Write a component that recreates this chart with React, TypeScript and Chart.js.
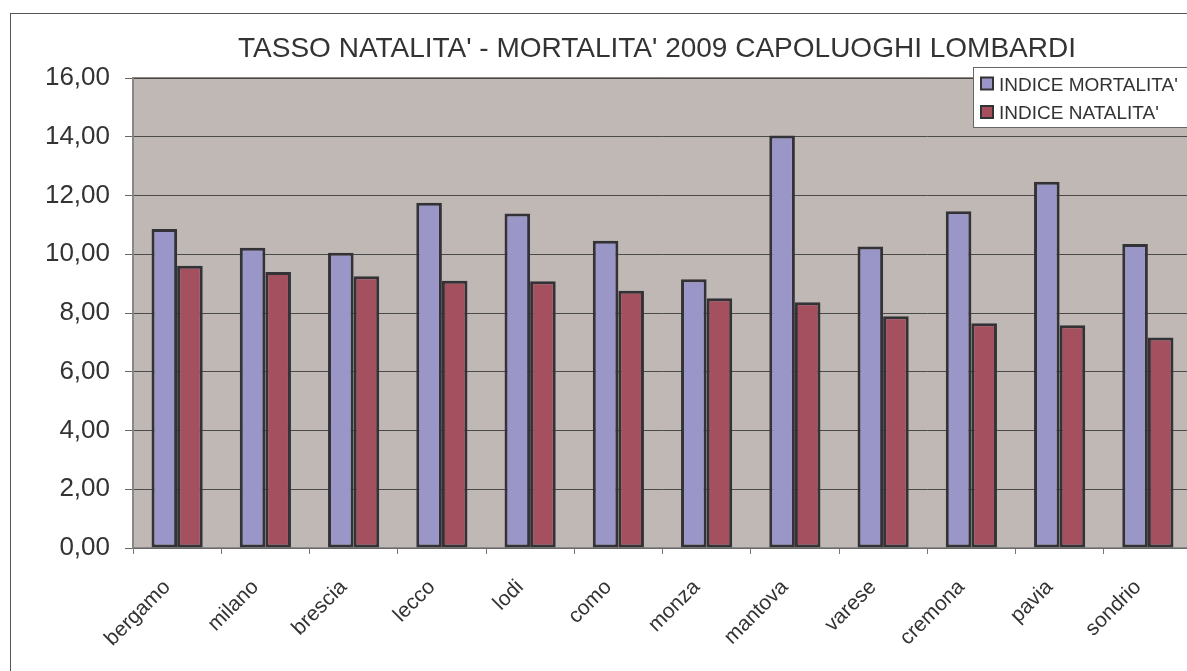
import { useEffect, useRef } from 'react';
import { Chart, registerables } from 'chart.js';

Chart.register(...registerables);

const TITLE = "TASSO NATALITA' - MORTALITA' 2009 CAPOLUOGHI LOMBARDI";
const categories = ['bergamo', 'milano', 'brescia', 'lecco', 'lodi', 'como', 'monza', 'mantova', 'varese', 'cremona', 'pavia', 'sondrio'];
const mortalita = [10.86, 10.22, 10.05, 11.75, 11.39, 10.46, 9.15, 14.04, 10.26, 11.46, 12.47, 10.35];
const natalita = [9.61, 9.4, 9.25, 9.1, 9.08, 8.76, 8.5, 8.37, 7.89, 7.65, 7.58, 7.17];
const seriesLabels = ["INDICE MORTALITA'", "INDICE NATALITA'"];
const seriesColors = ['#9B96C8', '#A5505F'];

const FONT = "'Liberation Sans', Arial, sans-serif";
const W = 1230;
const H = 700;

const decorPlugin = {
  id: 'decor',
  beforeDraw(chart: any) {
    const { ctx, chartArea } = chart;
    ctx.save();
    ctx.fillStyle = '#ffffff';
    ctx.fillRect(0, 0, W, H);
    ctx.strokeStyle = '#555555';
    ctx.lineWidth = 1;
    ctx.strokeRect(10.5, 13.5, W, H);
    ctx.fillStyle = '#C0B8B5';
    ctx.fillRect(chartArea.left, chartArea.top, chartArea.right - chartArea.left, chartArea.bottom - chartArea.top);
    ctx.strokeStyle = '#8f8682';
    ctx.lineWidth = 2;
    ctx.strokeRect(chartArea.left, chartArea.top, chartArea.right - chartArea.left, chartArea.bottom - chartArea.top);
    ctx.restore();
  },
  afterDraw(chart: any) {
    const { ctx } = chart;
    ctx.save();
    // title
    ctx.fillStyle = '#333333';
    ctx.font = `28px ${FONT}`;
    ctx.textAlign = 'center';
    ctx.textBaseline = 'alphabetic';
    ctx.fillText(TITLE, 657, 57);
    // legend
    ctx.fillStyle = '#ffffff';
    ctx.fillRect(973.5, 67.5, 260, 60);
    ctx.strokeStyle = '#666666';
    ctx.lineWidth = 1;
    ctx.strokeRect(973.5, 67.5, 260, 60);
    ctx.font = `19px ${FONT}`;
    ctx.textAlign = 'left';
    chart.data.datasets.forEach((ds: any, i: number) => {
      const y = 77.5 + i * 28.5;
      ctx.fillStyle = ds.backgroundColor;
      ctx.fillRect(981, y, 12, 12);
      ctx.strokeStyle = '#333333';
      ctx.lineWidth = 2;
      ctx.strokeRect(981, y, 12, 12);
      ctx.fillStyle = '#333333';
      ctx.fillText(ds.label, 999, y + 13);
    });
    ctx.restore();
  },
};

export default function App() {
  const ref = useRef<HTMLCanvasElement>(null);
  useEffect(() => {
    const chart = new Chart(ref.current as HTMLCanvasElement, {
      type: 'bar',
      data: {
        labels: categories,
        datasets: [
          {
            label: seriesLabels[0],
            data: mortalita,
            backgroundColor: seriesColors[0],
            borderColor: '#333236',
            borderWidth: 3,
            borderSkipped: false,
          },
          {
            label: seriesLabels[1],
            data: natalita,
            backgroundColor: seriesColors[1],
            borderColor: '#333236',
            borderWidth: 3,
            borderSkipped: false,
          },
        ],
      },
      options: {
        responsive: false,
        animation: false,
        devicePixelRatio: 1,
        layout: { padding: { left: 0, top: 78, right: W - 1192, bottom: 0 } },
        datasets: { bar: { categoryPercentage: 0.58, barPercentage: 1 } },
        plugins: {
          legend: { display: false },
          title: { display: false },
          tooltip: { enabled: false },
        },
        scales: {
          x: {
            offset: true,
            grid: { drawOnChartArea: false, tickLength: 6, color: '#777777', offset: true },
            border: { display: true, color: '#888888', width: 1.5 },
            ticks: {
              autoSkip: false,
              maxRotation: 45,
              minRotation: 45,
              padding: 21,
              labelOffset: -10,
              color: '#333333',
              font: { family: FONT, size: 21 },
            },
            afterFit(scale: any) {
              scale.height = H - 548;
            },
          },
          y: {
            min: 0,
            max: 16,
            ticks: {
              stepSize: 2,
              padding: 15,
              color: '#333333',
              font: { family: FONT, size: 26 },
              callback: (v: any) => Number(v).toFixed(2).replace('.', ','),
            },
            grid: { color: '#4a4a4a', tickLength: 8, tickColor: '#666666', lineWidth: 1 },
            border: { display: true, color: '#888888', width: 1.5 },
            afterFit(scale: any) {
              scale.width = 133;
            },
          },
        },
      },
      plugins: [decorPlugin],
    });
    return () => chart.destroy();
  }, []);
  return (
    <div style={{ position: 'fixed', left: 0, top: 0, width: '100vw', height: '100vh', overflow: 'hidden', background: '#fff' }}>
      <canvas ref={ref} width={W} height={H} style={{ display: 'block', width: W, height: H }} />
    </div>
  );
}
